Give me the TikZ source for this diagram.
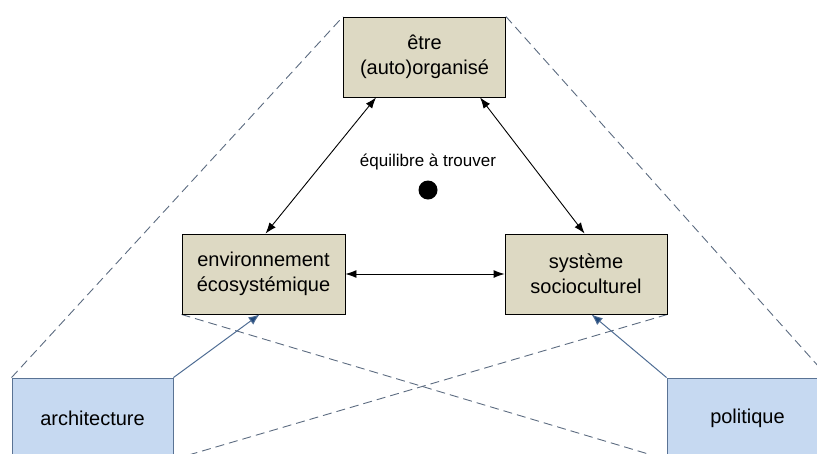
\documentclass[tikz,border=0pt]{standalone}
\usepackage{fontspec}
\setmainfont{Liberation Sans}
\usetikzlibrary{arrows.meta,backgrounds}
\definecolor{tan}{HTML}{DDD9C3}
\definecolor{lblue}{HTML}{C6D9F1}
\definecolor{bborder}{HTML}{5A7394}
\definecolor{dashc}{HTML}{5C6B80}
\definecolor{barrow}{HTML}{4F6D94}
\definecolor{btip}{HTML}{1F497D}
\tikzset{
  tanbox/.style={draw=black, fill=tan, line width=0.9pt, minimum width=162pt, minimum height=80pt, inner sep=0pt, align=center, font=\fontsize{20}{25}\selectfont},
  bluebox/.style={draw=bborder, fill=lblue, line width=0.9pt, minimum width=161pt, minimum height=81pt, inner sep=0pt, align=center, font=\fontsize{20}{25}\selectfont},
  dline/.style={draw=dashc, line width=0.9pt, dash pattern=on 9pt off 5pt},
  blink/.style={draw=black, line width=0.9pt, {Latex[length=11pt,width=8pt]}-{Latex[length=11pt,width=8pt]}},
  barrowst/.style={draw=barrow, line width=1pt, -{Latex[length=11pt,width=9pt,fill=btip]}},
}
\begin{document}
\begin{tikzpicture}[x=1pt,y=-1pt]
\useasboundingbox (0,0) rectangle (817,453);
\clip (0,0) rectangle (817,453);
\node[tanbox] (top) at (424.5,57) {être\\(auto)organisé};
\node[tanbox, minimum width=163pt] (left) at (263.5,274) {environnement\\écosystémique};
\node[tanbox] (right) at (586,274) {système\\socioculturel};
\node[bluebox] (arch) at (92.5,418.5) {architecture};
\node[bluebox] (pol) at (747.5,418.5) {politique};
% dashed lines behind the boxes
\begin{scope}[on background layer]
\path[dline] (arch.north west) -- (top.north west);
\path[dline] (top.north east) -- (pol.north east);
\path[dline] (left.south west) -- (pol.south west);
\path[dline] (right.south east) -- (arch.south east);
\end{scope}
% arrows
\coordinate (ts1) at ([xshift=33pt]top.south west);
\coordinate (ts2) at ([xshift=137pt]top.south west);
\coordinate (ln) at ([xshift=84pt]left.north west);
\coordinate (rn) at ([xshift=80pt]right.north west);
\coordinate (ls) at ([xshift=78pt]left.south west);
\coordinate (rs) at ([xshift=87pt]right.south west);
\path[blink] (ts1) -- (ln);
\path[blink] (ts2) -- (rn);
\path[blink] (left.east) -- (right.west);
\path[barrowst] (arch.north east) -- (ls);
\path[barrowst] (pol.north west) -- (rs);
\node[font=\fontsize{17}{20}\selectfont] (eq) at (428,162) {équilibre à trouver};
\node[circle, fill=black, minimum size=19pt, inner sep=0pt] (dot) at (428,190) {};
\end{tikzpicture}
\end{document}
